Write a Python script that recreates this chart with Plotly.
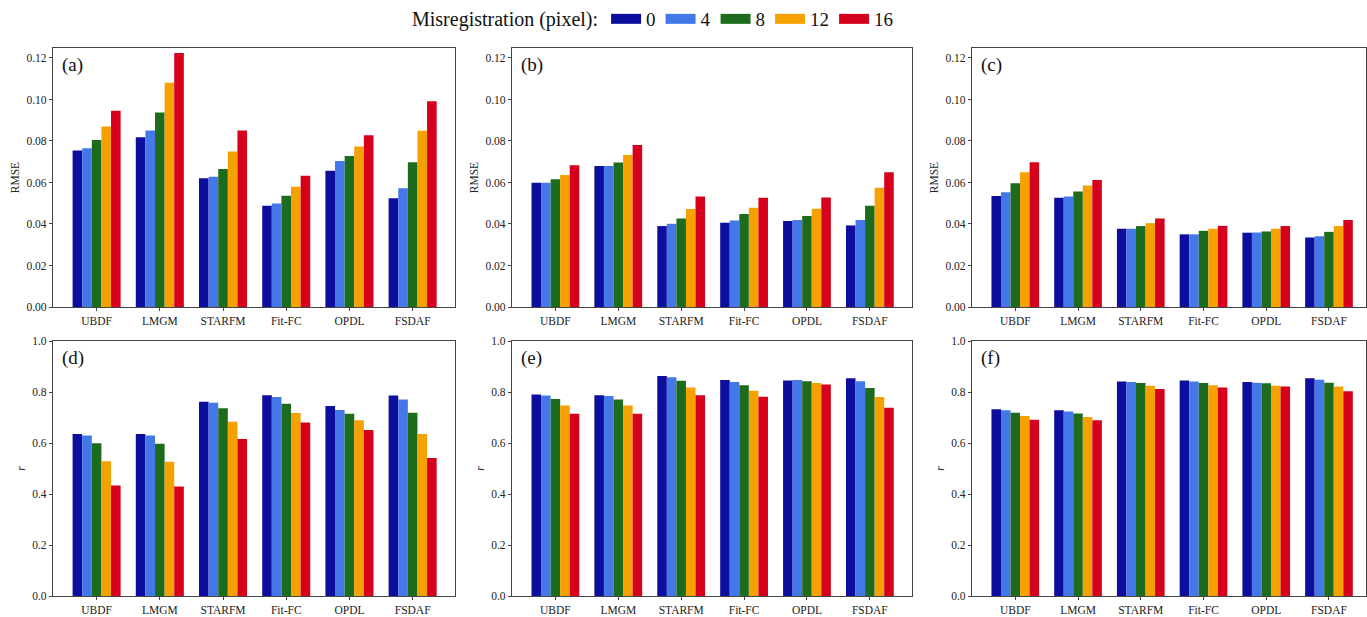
import plotly.graph_objects as go

methods = ["UBDF", "LMGM", "STARFM", "Fit-FC", "OPDL", "FSDAF"]
shifts = ["0", "4", "8", "12", "16"]
colors = ["#0e0e9e", "#4478e8", "#1d6b1d", "#f5a100", "#d6001c"]

# RMSE panels: each list = one misregistration level across methods
rmse_a = {
    "0":  [0.0754, 0.0818, 0.0620, 0.0488, 0.0657, 0.0524],
    "4":  [0.0765, 0.0850, 0.0628, 0.0499, 0.0704, 0.0572],
    "8":  [0.0805, 0.0937, 0.0665, 0.0536, 0.0728, 0.0697],
    "12": [0.0870, 0.1080, 0.0749, 0.0580, 0.0773, 0.0849],
    "16": [0.0946, 0.1224, 0.0850, 0.0633, 0.0828, 0.0991],
}
rmse_b = {
    "0":  [0.0599, 0.0680, 0.0390, 0.0406, 0.0414, 0.0393],
    "4":  [0.0599, 0.0680, 0.0401, 0.0417, 0.0419, 0.0419],
    "8":  [0.0615, 0.0696, 0.0427, 0.0448, 0.0438, 0.0488],
    "12": [0.0636, 0.0733, 0.0472, 0.0478, 0.0474, 0.0575],
    "16": [0.0683, 0.0781, 0.0532, 0.0527, 0.0528, 0.0649],
}
rmse_c = {
    "0":  [0.0535, 0.0527, 0.0377, 0.0350, 0.0358, 0.0335],
    "4":  [0.0553, 0.0532, 0.0377, 0.0350, 0.0359, 0.0341],
    "8":  [0.0596, 0.0556, 0.0390, 0.0367, 0.0364, 0.0362],
    "12": [0.0649, 0.0585, 0.0404, 0.0377, 0.0377, 0.0390],
    "16": [0.0697, 0.0612, 0.0427, 0.0391, 0.0390, 0.0419],
}
r_d = {
    "0":  [0.635, 0.635, 0.762, 0.787, 0.745, 0.786],
    "4":  [0.629, 0.629, 0.758, 0.780, 0.729, 0.771],
    "8":  [0.599, 0.597, 0.736, 0.754, 0.715, 0.719],
    "12": [0.528, 0.526, 0.683, 0.718, 0.689, 0.635],
    "16": [0.433, 0.429, 0.616, 0.680, 0.651, 0.541],
}
r_e = {
    "0":  [0.790, 0.787, 0.863, 0.847, 0.845, 0.854],
    "4":  [0.786, 0.784, 0.858, 0.839, 0.847, 0.842],
    "8":  [0.773, 0.771, 0.844, 0.826, 0.842, 0.816],
    "12": [0.747, 0.747, 0.818, 0.805, 0.835, 0.780],
    "16": [0.715, 0.715, 0.787, 0.781, 0.829, 0.738],
}
r_f = {
    "0":  [0.732, 0.728, 0.841, 0.845, 0.839, 0.854],
    "4":  [0.728, 0.724, 0.839, 0.841, 0.836, 0.848],
    "8":  [0.719, 0.716, 0.835, 0.835, 0.834, 0.836],
    "12": [0.706, 0.702, 0.825, 0.826, 0.825, 0.822],
    "16": [0.691, 0.689, 0.812, 0.818, 0.822, 0.803],
}

panels = [
    ("(a)", rmse_a, "RMSE", 0.1248, [0.0, 0.02, 0.04, 0.06, 0.08, 0.10, 0.12]),
    ("(b)", rmse_b, "RMSE", 0.1248, [0.0, 0.02, 0.04, 0.06, 0.08, 0.10, 0.12]),
    ("(c)", rmse_c, "RMSE", 0.1248, [0.0, 0.02, 0.04, 0.06, 0.08, 0.10, 0.12]),
    ("(d)", r_d, "<i>r</i>", 1.0, [0.0, 0.2, 0.4, 0.6, 0.8, 1.0]),
    ("(e)", r_e, "<i>r</i>", 1.0, [0.0, 0.2, 0.4, 0.6, 0.8, 1.0]),
    ("(f)", r_f, "<i>r</i>", 1.0, [0.0, 0.2, 0.4, 0.6, 0.8, 1.0]),
]

W, H = 1367, 617
xdoms = [(53, 455), (512, 912), (972, 1366)]
xranges = [(-0.69, 5.67), (-0.69, 5.67), (-0.69, 5.59)]
ydoms = [(48, 307), (341, 596)]

FONT = "Liberation Serif, Times New Roman, serif"
AX = "#444444"

fig = go.Figure()
layout = dict(
    width=W, height=H,
    margin=dict(l=0, r=0, t=0, b=0, autoexpand=False),
    paper_bgcolor="white", plot_bgcolor="white",
    barmode="group", bargap=0.24, bargroupgap=0.0,
    font=dict(family=FONT, color="#222222", size=12),
    showlegend=True,
)
annotations = []
xpos = list(range(len(methods)))

for k, (lab, data, ytitle, ymax, tickv) in enumerate(panels):
    row, col = divmod(k, 3)
    idx = "" if k == 0 else str(k + 1)
    xa, ya = "x" + idx, "y" + idx
    for s, c in zip(shifts, colors):
        fig.add_trace(go.Bar(
            x=xpos, y=data[s], marker=dict(color=c, line=dict(width=0)),
            xaxis=xa, yaxis=ya, showlegend=False, name=s,
        ))
    x0, x1 = xdoms[col]
    y0, y1 = ydoms[row]
    dec = 2 if ymax < 0.5 else 1
    layout["xaxis" + idx] = dict(
        domain=[x0 / W, x1 / W], anchor=ya, range=list(xranges[col]),
        tickmode="array", tickvals=xpos, ticktext=methods,
        ticks="outside", ticklen=3, tickcolor=AX, automargin=False,
        showline=True, linecolor=AX, linewidth=1.2, mirror=True,
        showgrid=False, zeroline=False, tickfont=dict(size=11.5, color="#222222"),
    )
    layout["yaxis" + idx] = dict(
        domain=[1 - y1 / H, 1 - y0 / H], anchor=xa, range=[0, ymax],
        tickmode="array", tickvals=tickv,
        ticktext=[f"{v:.{dec}f}" for v in tickv],
        ticks="outside", ticklen=3, tickcolor=AX, automargin=False,
        showline=True, linecolor=AX, linewidth=1.2, mirror=True,
        showgrid=False, zeroline=False, tickfont=dict(size=11.5, color="#222222"),
        title=dict(text=ytitle, font=dict(size=11.5), standoff=4),
    )
    annotations.append(dict(
        text=lab, xref=xa + " domain", yref=ya + " domain",
        x=0.018, y=0.985, xanchor="left", yanchor="top",
        showarrow=False, font=dict(size=19, color="#111111"),
    ))

# legend entries (wide swatches)
for s, c in zip(shifts, colors):
    fig.add_trace(go.Scatter(
        x=[None], y=[None], mode="lines", name=s,
        line=dict(color=c, width=10), showlegend=True,
    ))

layout["legend"] = dict(
    orientation="h", x=410 / W, xanchor="left", y=1.0, yanchor="top",
    title=dict(text="Misregistration (pixel):", font=dict(size=20, family=FONT), side="left"),
    font=dict(size=19, family=FONT, color="#111111"),
    bgcolor="rgba(0,0,0,0)", itemwidth=30, tracegroupgap=0,
)
layout["annotations"] = annotations
fig.update_layout(**layout)
fig.write_html("out.html")
